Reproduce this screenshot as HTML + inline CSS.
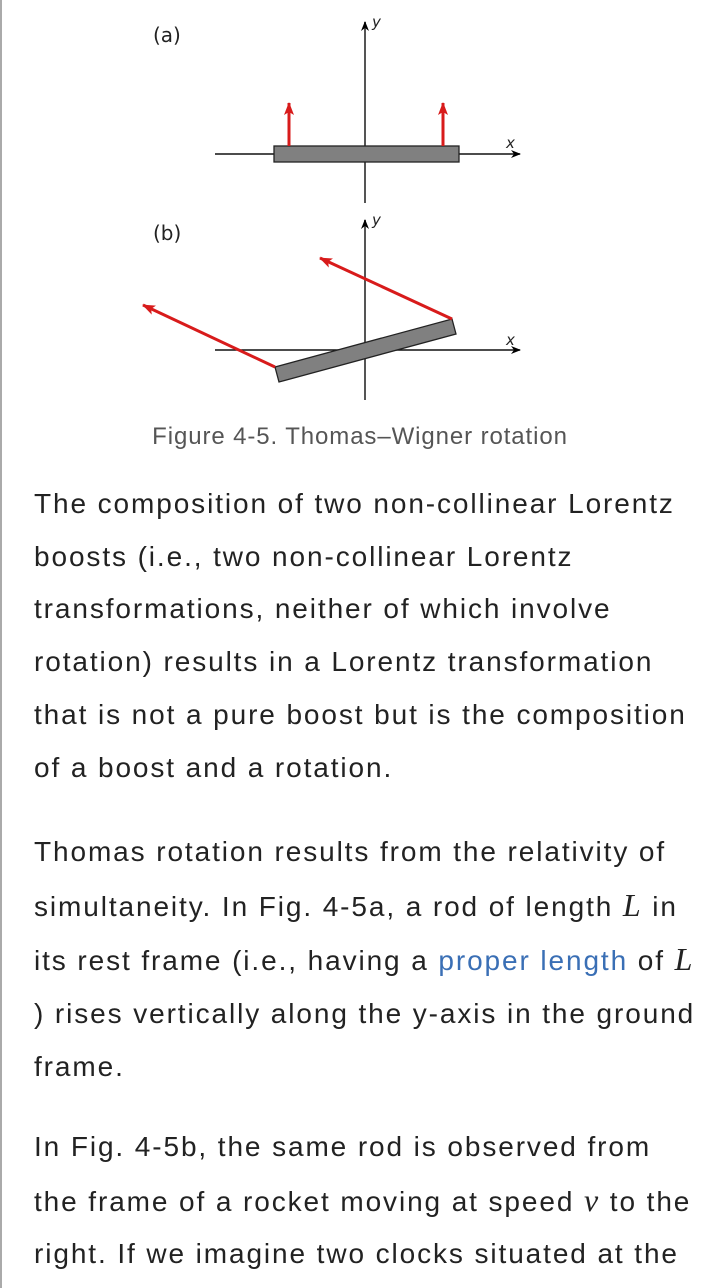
<!DOCTYPE html>
<html><head><style>
html,body{margin:0;padding:0;background:#fff;}
body{width:720px;height:1288px;position:relative;overflow:hidden;font-family:"Liberation Sans",sans-serif;}
.bar{position:absolute;left:0;top:0;width:2px;height:1288px;background:#aaa;}
.cap{position:absolute;top:423px;left:0;width:720px;text-align:center;font-size:24px;color:#555;letter-spacing:0.9px;}
.p{position:absolute;left:34px;font-size:28px;color:#222;line-height:52.7px;white-space:nowrap;letter-spacing:1.9px;}
.m{font-family:"Liberation Serif",serif;font-style:italic;font-size:32px;}
a{color:#3a6fb5;text-decoration:none;}
</style></head><body>
<div class="bar"></div>
<svg width="720" height="420" style="position:absolute;left:0;top:0">
<defs>
<marker id="ab" markerWidth="10" markerHeight="8" refX="9" refY="4" orient="auto" markerUnits="userSpaceOnUse"><path d="M0,0 L10,4 L0,8 L3,4z" fill="#000"/></marker>
<marker id="ar" markerWidth="14" markerHeight="10" refX="12" refY="5" orient="auto" markerUnits="userSpaceOnUse"><path d="M0,0 L13,5 L0,10 L3,5z" fill="#d81b1b"/></marker>
</defs>
<g font-family="DejaVu Sans,sans-serif" font-size="20" fill="#222">
<text x="153" y="42">(a)</text><text x="153" y="240">(b)</text>
</g>
<g font-family="DejaVu Sans,sans-serif" font-style="italic" font-size="15" fill="#222">
<text x="372" y="27">y</text><text x="506" y="148">x</text>
<text x="372" y="225">y</text><text x="506" y="345">x</text>
</g>
<line x1="365" y1="203" x2="365" y2="22" stroke="#555" stroke-width="2" marker-end="url(#ab)"/>
<line x1="215" y1="154" x2="520" y2="154" stroke="#111" stroke-width="1.5" marker-end="url(#ab)"/>
<rect x="274" y="146" width="185" height="16" fill="#808080" stroke="#222" stroke-width="1.3"/>
<line x1="289" y1="146" x2="289" y2="103" stroke="#d81b1b" stroke-width="3" marker-end="url(#ar)"/>
<line x1="443" y1="146" x2="443" y2="103" stroke="#d81b1b" stroke-width="3" marker-end="url(#ar)"/>
<line x1="365" y1="400" x2="365" y2="220" stroke="#555" stroke-width="2" marker-end="url(#ab)"/>
<line x1="215" y1="350" x2="520" y2="350" stroke="#111" stroke-width="1.5" marker-end="url(#ab)"/>
<polygon points="275,367 452,319 456,334 279,382" fill="#808080" stroke="#222" stroke-width="1.3"/>
<line x1="275" y1="367" x2="143" y2="305" stroke="#d81b1b" stroke-width="3" marker-end="url(#ar)"/>
<line x1="452" y1="319" x2="320" y2="258" stroke="#d81b1b" stroke-width="3" marker-end="url(#ar)"/>
</svg>
<div class="cap">Figure 4-5. Thomas–Wigner rotation</div>
<div class="p" style="top:478px">The composition of two non-collinear Lorentz<br>boosts (i.e., two non-collinear Lorentz<br>transformations, neither of which involve<br>rotation) results in a Lorentz transformation<br>that is not a pure boost but is the composition<br>of a boost and a rotation.</div>
<div class="p" style="top:826px">Thomas rotation results from the relativity of<br>simultaneity. In Fig. 4-5a, a rod of length <span class="m">L</span> in<br>its rest frame (i.e., having a <a>proper length</a> of <span class="m">L</span><br>) rises vertically along the y-axis in the ground<br>frame.</div>
<div class="p" style="top:1121px">In Fig. 4-5b, the same rod is observed from<br>the frame of a rocket moving at speed <span class="m">v</span> to the<br>right. If we imagine two clocks situated at the</div>
</body></html>
